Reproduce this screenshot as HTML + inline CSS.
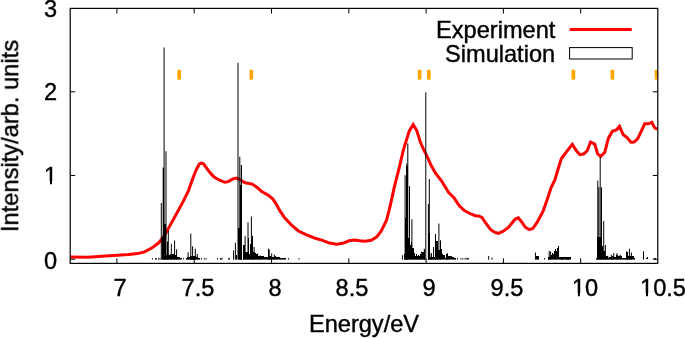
<!DOCTYPE html><html><head><meta charset="utf-8"><title>chart</title><style>
html,body{margin:0;padding:0;background:#fff}
#p{position:relative;width:685px;height:338px;overflow:hidden;background:#fff;font-family:"Liberation Sans",sans-serif;font-size:23.6px;color:#000;line-height:1}
.t{position:absolute;white-space:nowrap;line-height:1;-webkit-text-stroke:0.4px #000;will-change:transform}
.o{position:relative;display:inline-block}.o:before,.o:after{content:"";position:absolute;background:#fff;top:15.9px;height:4.2px}.o:before{left:0.3px;width:5.45px}.o:after{left:8.25px;width:5.2px}
</style></head><body><div id="p">
<svg width="685" height="338" viewBox="0 0 685 338" style="position:absolute;left:0;top:0">
<clipPath id="c"><rect x="70.2" y="8.4" width="587.5999999999999" height="254.99999999999997"/></clipPath>
<g fill="#ffa500" clip-path="url(#c)">
<rect x="177.4" y="69.8" width="3.6" height="9.8"/>
<rect x="249.5" y="69.8" width="3.6" height="9.8"/>
<rect x="417.8" y="69.8" width="3.6" height="9.8"/>
<rect x="427.0" y="69.8" width="3.6" height="9.8"/>
<rect x="571.6" y="69.8" width="3.6" height="9.8"/>
<rect x="610.6" y="69.8" width="3.6" height="9.8"/>
<rect x="654.8" y="69.8" width="3.6" height="9.8"/>
</g>
<polyline clip-path="url(#c)" fill="none" stroke="#ff0000" stroke-width="3" stroke-linejoin="miter" stroke-miterlimit="3" stroke-linecap="butt" points="70.0,257.0 87.8,257.2 105.5,256.1 117.0,255.2 128.6,254.5 137.5,253.6 144.6,251.9 151.7,248.1 158.8,242.8 164.1,236.2 169.4,226.6 174.7,217.0 180.1,207.1 183.1,201.6 188.4,190.8 192.8,178.4 196.4,169.5 199.4,163.8 201.2,163.0 203.5,163.8 207.0,168.6 210.6,173.4 214.1,177.0 219.5,180.2 224.8,182.3 228.3,181.6 232.8,178.9 236.3,178.0 239.9,179.8 245.2,182.8 252.3,184.1 256.8,187.3 262.1,191.7 268.3,195.3 272.7,198.8 276.3,204.1 278.9,209.2 284.2,217.2 291.3,224.8 298.4,231.0 305.5,234.4 314.4,238.0 322.4,240.3 329.5,243.1 336.6,244.2 342.8,243.3 349.0,240.8 354.3,239.9 359.6,240.8 365.0,241.3 371.2,240.3 376.5,237.1 381.0,231.4 384.5,224.3 386.6,220.0 389.6,208.4 392.5,195.4 394.3,187.1 396.1,180.0 399.0,168.6 403.4,149.9 409.3,130.9 413.2,124.7 416.7,130.4 420.3,142.0 423.8,149.9 428.3,158.8 430.9,165.0 435.4,173.0 441.6,181.0 448.7,192.5 454.0,197.8 459.3,205.8 464.7,210.8 470.9,214.0 475.3,215.7 478.9,215.9 482.1,217.6 486.0,223.5 490.4,229.4 494.9,232.4 498.4,233.3 502.8,231.5 508.2,227.6 512.6,222.3 515.3,219.1 518.3,217.8 521.5,221.7 525.4,227.4 529.5,229.7 533.0,228.3 537.5,221.7 543.1,211.1 547.2,199.5 551.3,187.1 554.9,180.0 557.8,170.0 561.3,158.8 566.6,151.7 572.3,144.3 576.4,150.8 579.9,154.7 583.5,154.0 587.0,151.2 590.6,142.0 594.7,144.1 597.7,154.0 600.7,156.5 604.8,152.3 608.3,138.4 612.4,131.3 616.3,129.9 619.5,126.3 623.1,134.5 627.0,137.5 630.9,142.3 634.1,142.0 637.6,138.8 641.2,131.3 644.7,123.8 648.3,123.8 651.8,122.4 654.5,127.4 657.2,129.5"/>
<g stroke="#000" stroke-width="1" clip-path="url(#c)">
<line x1="161.3" y1="203.1" x2="161.3" y2="259.7"/>
<line x1="163.2" y1="167.5" x2="163.2" y2="259.7"/>
<line x1="164.1" y1="47.5" x2="164.1" y2="259.7"/>
<line x1="166.0" y1="151.3" x2="166.0" y2="259.7"/>
<line x1="167.5" y1="241.6" x2="167.5" y2="259.7"/>
<line x1="168.3" y1="230.7" x2="168.3" y2="259.7"/>
<line x1="171.3" y1="243.9" x2="171.3" y2="259.7"/>
<line x1="174.6" y1="240.5" x2="174.6" y2="259.7"/>
<line x1="176.6" y1="249.3" x2="176.6" y2="259.7"/>
<line x1="188.1" y1="252.2" x2="188.1" y2="259.7"/>
<line x1="190.8" y1="233.5" x2="190.8" y2="259.7"/>
<line x1="192.6" y1="246.3" x2="192.6" y2="259.7"/>
<line x1="195.3" y1="248.7" x2="195.3" y2="259.7"/>
<line x1="197.3" y1="254.0" x2="197.3" y2="259.7"/>
<line x1="238.0" y1="62.8" x2="238.0" y2="259.7"/>
<line x1="239.8" y1="156.8" x2="239.8" y2="259.7"/>
<line x1="241.3" y1="165.1" x2="241.3" y2="259.7"/>
<line x1="233.6" y1="250.4" x2="233.6" y2="259.7"/>
<line x1="235.4" y1="242.8" x2="235.4" y2="259.7"/>
<line x1="243.7" y1="245.7" x2="243.7" y2="259.7"/>
<line x1="245.1" y1="236.2" x2="245.1" y2="259.7"/>
<line x1="248.0" y1="222.3" x2="248.0" y2="259.7"/>
<line x1="251.4" y1="216.4" x2="251.4" y2="259.7"/>
<line x1="252.2" y1="235.7" x2="252.2" y2="259.7"/>
<line x1="254.1" y1="246.9" x2="254.1" y2="259.7"/>
<line x1="257.6" y1="253.4" x2="257.6" y2="259.7"/>
<line x1="260.2" y1="255.5" x2="260.2" y2="259.7"/>
<line x1="268.5" y1="248.7" x2="268.5" y2="259.7"/>
<line x1="269.2" y1="249.5" x2="269.2" y2="259.7"/>
<line x1="271.7" y1="253.4" x2="271.7" y2="259.7"/>
<line x1="274.4" y1="254.6" x2="274.4" y2="259.7"/>
<line x1="402.4" y1="255.2" x2="402.4" y2="259.7"/>
<line x1="405.1" y1="175.2" x2="405.1" y2="259.7"/>
<line x1="406.8" y1="163.3" x2="406.8" y2="259.7"/>
<line x1="407.8" y1="143.4" x2="407.8" y2="259.7"/>
<line x1="409.5" y1="186.2" x2="409.5" y2="259.7"/>
<line x1="411.9" y1="219.3" x2="411.9" y2="259.7"/>
<line x1="431.2" y1="253.2" x2="431.2" y2="259.7"/>
<line x1="421.4" y1="251.6" x2="421.4" y2="259.7"/>
<line x1="424.3" y1="248.7" x2="424.3" y2="259.7"/>
<line x1="425.8" y1="92.4" x2="425.8" y2="259.7"/>
<line x1="428.4" y1="203.9" x2="428.4" y2="259.7"/>
<line x1="429.3" y1="179.1" x2="429.3" y2="259.7"/>
<line x1="431.4" y1="253.4" x2="431.4" y2="259.7"/>
<line x1="433.6" y1="246.9" x2="433.6" y2="259.7"/>
<line x1="437.3" y1="242.8" x2="437.3" y2="259.7"/>
<line x1="438.9" y1="223.5" x2="438.9" y2="259.7"/>
<line x1="440.5" y1="240.3" x2="440.5" y2="259.7"/>
<line x1="447.4" y1="253.2" x2="447.4" y2="259.7"/>
<line x1="488.7" y1="256.0" x2="488.7" y2="259.7"/>
<line x1="492.0" y1="257.5" x2="492.0" y2="259.7"/>
<line x1="535.4" y1="252.5" x2="535.4" y2="259.7"/>
<line x1="549.2" y1="251.0" x2="549.2" y2="259.7"/>
<line x1="550.6" y1="251.5" x2="550.6" y2="259.7"/>
<line x1="597.8" y1="180.5" x2="597.8" y2="259.7"/>
<line x1="598.8" y1="187.0" x2="598.8" y2="259.7"/>
<line x1="600.2" y1="156.8" x2="600.2" y2="259.7"/>
<line x1="601.5" y1="187.4" x2="601.5" y2="259.7"/>
<line x1="603.7" y1="221.1" x2="603.7" y2="259.7"/>
<line x1="605.4" y1="245.1" x2="605.4" y2="259.7"/>
<line x1="607.8" y1="255.8" x2="607.8" y2="259.7"/>
<line x1="611.3" y1="254.6" x2="611.3" y2="259.7"/>
<line x1="613.7" y1="253.2" x2="613.7" y2="259.7"/>
<line x1="617.0" y1="253.2" x2="617.0" y2="259.7"/>
<line x1="620.2" y1="254.6" x2="620.2" y2="259.7"/>
<line x1="626.7" y1="251.3" x2="626.7" y2="259.7"/>
<line x1="629.4" y1="248.7" x2="629.4" y2="259.7"/>
<line x1="631.4" y1="252.5" x2="631.4" y2="259.7"/>
<line x1="643.5" y1="251.3" x2="643.5" y2="259.7"/>
<line x1="152.4" y1="257.9" x2="152.4" y2="259.7" stroke-width="0.8"/>
<line x1="155.6" y1="257.9" x2="155.6" y2="259.7" stroke-width="0.8"/>
<line x1="156.4" y1="257.9" x2="156.4" y2="259.7" stroke-width="0.8"/>
<line x1="158.7" y1="257.9" x2="158.7" y2="259.7" stroke-width="0.8"/>
<line x1="160.0" y1="257.9" x2="160.0" y2="259.7" stroke-width="0.8"/>
<line x1="181.5" y1="257.9" x2="181.5" y2="259.7" stroke-width="0.8"/>
<line x1="183.6" y1="257.9" x2="183.6" y2="259.7" stroke-width="0.8"/>
<line x1="201.4" y1="257.9" x2="201.4" y2="259.7" stroke-width="0.8"/>
<line x1="204.4" y1="257.9" x2="204.4" y2="259.7" stroke-width="0.8"/>
<line x1="206.2" y1="257.9" x2="206.2" y2="259.7" stroke-width="0.8"/>
<line x1="217.5" y1="257.9" x2="217.5" y2="259.7" stroke-width="0.8"/>
<line x1="220.5" y1="257.9" x2="220.5" y2="259.7" stroke-width="0.8"/>
<line x1="222.0" y1="257.9" x2="222.0" y2="259.7" stroke-width="0.8"/>
<line x1="228.7" y1="257.9" x2="228.7" y2="259.7" stroke-width="0.8"/>
<line x1="221.2" y1="257.9" x2="221.2" y2="259.7" stroke-width="0.8"/>
<line x1="229.5" y1="257.9" x2="229.5" y2="259.7" stroke-width="0.8"/>
<line x1="288.6" y1="257.9" x2="288.6" y2="259.7" stroke-width="0.8"/>
<line x1="299.0" y1="257.9" x2="299.0" y2="259.7" stroke-width="0.8"/>
<line x1="457.5" y1="257.9" x2="457.5" y2="259.7" stroke-width="0.8"/>
<line x1="461.0" y1="257.9" x2="461.0" y2="259.7" stroke-width="0.8"/>
<line x1="462.8" y1="257.9" x2="462.8" y2="259.7" stroke-width="0.8"/>
<line x1="465.1" y1="257.9" x2="465.1" y2="259.7" stroke-width="0.8"/>
<line x1="467.5" y1="257.9" x2="467.5" y2="259.7" stroke-width="0.8"/>
<line x1="466.2" y1="257.9" x2="466.2" y2="259.7" stroke-width="0.8"/>
<line x1="468.6" y1="257.9" x2="468.6" y2="259.7" stroke-width="0.8"/>
<line x1="544.5" y1="257.9" x2="544.5" y2="259.7" stroke-width="0.8"/>
<line x1="654.5" y1="257.9" x2="654.5" y2="259.7" stroke-width="0.8"/>
<line x1="655.5" y1="257.9" x2="655.5" y2="259.7" stroke-width="0.8"/>
</g>
<g fill="#000" clip-path="url(#c)" shape-rendering="crispEdges">
<rect x="163" y="224" width="3" height="35"/>
<rect x="163" y="259" width="3" height="0.6" shape-rendering="auto"/>
<rect x="163" y="168" width="1" height="91"/>
<rect x="163" y="259" width="1" height="0.6" shape-rendering="auto"/>
<rect x="162" y="237" width="1" height="22"/>
<rect x="162" y="259" width="1" height="0.6" shape-rendering="auto"/>
<rect x="166" y="255" width="4" height="4"/>
<rect x="166" y="259" width="4" height="0.6" shape-rendering="auto"/>
<rect x="170" y="254" width="4" height="5"/>
<rect x="170" y="259" width="4" height="0.6" shape-rendering="auto"/>
<rect x="174" y="255" width="3" height="4"/>
<rect x="174" y="259" width="3" height="0.6" shape-rendering="auto"/>
<rect x="177" y="257" width="3" height="2"/>
<rect x="177" y="259" width="3" height="0.6" shape-rendering="auto"/>
<rect x="180" y="258" width="1" height="1"/>
<rect x="180" y="259" width="1" height="0.6" shape-rendering="auto"/>
<rect x="186" y="258" width="1" height="1"/>
<rect x="186" y="259" width="1" height="0.6" shape-rendering="auto"/>
<rect x="187" y="257" width="11" height="2"/>
<rect x="187" y="259" width="11" height="0.6" shape-rendering="auto"/>
<rect x="190" y="256" width="6" height="3"/>
<rect x="190" y="259" width="6" height="0.6" shape-rendering="auto"/>
<rect x="198" y="258" width="2" height="1"/>
<rect x="198" y="259" width="2" height="0.6" shape-rendering="auto"/>
<rect x="236" y="255" width="1" height="4"/>
<rect x="236" y="259" width="1" height="0.6" shape-rendering="auto"/>
<rect x="238" y="228" width="4" height="31"/>
<rect x="238" y="259" width="4" height="0.6" shape-rendering="auto"/>
<rect x="240" y="185" width="2" height="74"/>
<rect x="240" y="259" width="2" height="0.6" shape-rendering="auto"/>
<rect x="241" y="165" width="1" height="94"/>
<rect x="241" y="259" width="1" height="0.6" shape-rendering="auto"/>
<rect x="243" y="245" width="2" height="14"/>
<rect x="243" y="259" width="2" height="0.6" shape-rendering="auto"/>
<rect x="245" y="252" width="3" height="7"/>
<rect x="245" y="259" width="3" height="0.6" shape-rendering="auto"/>
<rect x="248" y="238" width="1" height="21"/>
<rect x="248" y="259" width="1" height="0.6" shape-rendering="auto"/>
<rect x="249" y="254" width="1" height="5"/>
<rect x="249" y="259" width="1" height="0.6" shape-rendering="auto"/>
<rect x="250" y="244" width="2" height="15"/>
<rect x="250" y="259" width="2" height="0.6" shape-rendering="auto"/>
<rect x="252" y="236" width="1" height="23"/>
<rect x="252" y="259" width="1" height="0.6" shape-rendering="auto"/>
<rect x="253" y="252" width="2" height="7"/>
<rect x="253" y="259" width="2" height="0.6" shape-rendering="auto"/>
<rect x="255" y="253" width="1" height="6"/>
<rect x="255" y="259" width="1" height="0.6" shape-rendering="auto"/>
<rect x="256" y="254" width="2" height="5"/>
<rect x="256" y="259" width="2" height="0.6" shape-rendering="auto"/>
<rect x="258" y="256" width="2" height="3"/>
<rect x="258" y="259" width="2" height="0.6" shape-rendering="auto"/>
<rect x="260" y="256" width="2" height="3"/>
<rect x="260" y="259" width="2" height="0.6" shape-rendering="auto"/>
<rect x="262" y="256" width="2" height="3"/>
<rect x="262" y="259" width="2" height="0.6" shape-rendering="auto"/>
<rect x="264" y="257" width="4" height="2"/>
<rect x="264" y="259" width="4" height="0.6" shape-rendering="auto"/>
<rect x="268" y="256" width="2" height="3"/>
<rect x="268" y="259" width="2" height="0.6" shape-rendering="auto"/>
<rect x="268" y="249" width="1" height="10"/>
<rect x="268" y="259" width="1" height="0.6" shape-rendering="auto"/>
<rect x="270" y="256" width="1" height="3"/>
<rect x="270" y="259" width="1" height="0.6" shape-rendering="auto"/>
<rect x="271" y="257" width="2" height="2"/>
<rect x="271" y="259" width="2" height="0.6" shape-rendering="auto"/>
<rect x="273" y="257" width="2" height="2"/>
<rect x="273" y="259" width="2" height="0.6" shape-rendering="auto"/>
<rect x="275" y="256" width="1" height="3"/>
<rect x="275" y="259" width="1" height="0.6" shape-rendering="auto"/>
<rect x="276" y="257" width="4" height="2"/>
<rect x="276" y="259" width="4" height="0.6" shape-rendering="auto"/>
<rect x="280" y="258" width="1" height="1"/>
<rect x="280" y="259" width="1" height="0.6" shape-rendering="auto"/>
<rect x="281" y="258" width="3" height="1"/>
<rect x="281" y="259" width="3" height="0.6" shape-rendering="auto"/>
<rect x="284" y="258" width="2" height="1"/>
<rect x="284" y="259" width="2" height="0.6" shape-rendering="auto"/>
<rect x="404" y="254" width="1" height="5"/>
<rect x="404" y="259" width="1" height="0.6" shape-rendering="auto"/>
<rect x="405" y="218" width="3" height="41"/>
<rect x="405" y="259" width="3" height="0.6" shape-rendering="auto"/>
<rect x="406" y="166" width="2" height="93"/>
<rect x="406" y="259" width="2" height="0.6" shape-rendering="auto"/>
<rect x="408" y="238" width="1" height="21"/>
<rect x="408" y="259" width="1" height="0.6" shape-rendering="auto"/>
<rect x="410" y="245" width="1" height="14"/>
<rect x="410" y="259" width="1" height="0.6" shape-rendering="auto"/>
<rect x="411" y="242" width="1" height="17"/>
<rect x="411" y="259" width="1" height="0.6" shape-rendering="auto"/>
<rect x="412" y="248" width="2" height="11"/>
<rect x="412" y="259" width="2" height="0.6" shape-rendering="auto"/>
<rect x="414" y="253" width="1" height="6"/>
<rect x="414" y="259" width="1" height="0.6" shape-rendering="auto"/>
<rect x="414" y="256" width="6" height="3"/>
<rect x="414" y="259" width="6" height="0.6" shape-rendering="auto"/>
<rect x="416" y="254" width="1" height="5"/>
<rect x="416" y="259" width="1" height="0.6" shape-rendering="auto"/>
<rect x="418" y="255" width="1" height="4"/>
<rect x="418" y="259" width="1" height="0.6" shape-rendering="auto"/>
<rect x="420" y="254" width="2" height="5"/>
<rect x="420" y="259" width="2" height="0.6" shape-rendering="auto"/>
<rect x="422" y="252" width="1" height="7"/>
<rect x="422" y="259" width="1" height="0.6" shape-rendering="auto"/>
<rect x="423" y="252" width="2" height="7"/>
<rect x="423" y="259" width="2" height="0.6" shape-rendering="auto"/>
<rect x="424" y="250" width="1" height="9"/>
<rect x="424" y="259" width="1" height="0.6" shape-rendering="auto"/>
<rect x="428" y="233" width="2" height="26"/>
<rect x="428" y="259" width="2" height="0.6" shape-rendering="auto"/>
<rect x="430" y="257" width="6" height="2"/>
<rect x="430" y="259" width="6" height="0.6" shape-rendering="auto"/>
<rect x="435" y="234" width="1" height="25"/>
<rect x="435" y="259" width="1" height="0.6" shape-rendering="auto"/>
<rect x="436" y="241" width="2" height="18"/>
<rect x="436" y="259" width="2" height="0.6" shape-rendering="auto"/>
<rect x="438" y="250" width="3" height="9"/>
<rect x="438" y="259" width="3" height="0.6" shape-rendering="auto"/>
<rect x="441" y="249" width="1" height="10"/>
<rect x="441" y="259" width="1" height="0.6" shape-rendering="auto"/>
<rect x="442" y="254" width="1" height="5"/>
<rect x="442" y="259" width="1" height="0.6" shape-rendering="auto"/>
<rect x="443" y="255" width="2" height="4"/>
<rect x="443" y="259" width="2" height="0.6" shape-rendering="auto"/>
<rect x="445" y="258" width="1" height="1"/>
<rect x="445" y="259" width="1" height="0.6" shape-rendering="auto"/>
<rect x="446" y="254" width="2" height="5"/>
<rect x="446" y="259" width="2" height="0.6" shape-rendering="auto"/>
<rect x="448" y="256" width="2" height="3"/>
<rect x="448" y="259" width="2" height="0.6" shape-rendering="auto"/>
<rect x="450" y="256" width="2" height="3"/>
<rect x="450" y="259" width="2" height="0.6" shape-rendering="auto"/>
<rect x="452" y="257" width="2" height="2"/>
<rect x="452" y="259" width="2" height="0.6" shape-rendering="auto"/>
<rect x="454" y="258" width="2" height="1"/>
<rect x="454" y="259" width="2" height="0.6" shape-rendering="auto"/>
<rect x="536" y="256" width="3" height="3"/>
<rect x="536" y="259" width="3" height="0.6" shape-rendering="auto"/>
<rect x="548" y="257" width="1" height="2"/>
<rect x="548" y="259" width="1" height="0.6" shape-rendering="auto"/>
<rect x="549" y="257" width="2" height="2"/>
<rect x="549" y="259" width="2" height="0.6" shape-rendering="auto"/>
<rect x="551" y="255" width="1" height="4"/>
<rect x="551" y="259" width="1" height="0.6" shape-rendering="auto"/>
<rect x="552" y="253" width="1" height="6"/>
<rect x="552" y="259" width="1" height="0.6" shape-rendering="auto"/>
<rect x="553" y="254" width="1" height="5"/>
<rect x="553" y="259" width="1" height="0.6" shape-rendering="auto"/>
<rect x="554" y="251" width="1" height="8"/>
<rect x="554" y="259" width="1" height="0.6" shape-rendering="auto"/>
<rect x="555" y="249" width="1" height="10"/>
<rect x="555" y="259" width="1" height="0.6" shape-rendering="auto"/>
<rect x="556" y="251" width="1" height="8"/>
<rect x="556" y="259" width="1" height="0.6" shape-rendering="auto"/>
<rect x="557" y="248" width="1" height="11"/>
<rect x="557" y="259" width="1" height="0.6" shape-rendering="auto"/>
<rect x="558" y="246" width="1" height="13"/>
<rect x="558" y="259" width="1" height="0.6" shape-rendering="auto"/>
<rect x="559" y="257" width="12" height="2"/>
<rect x="559" y="259" width="12" height="0.6" shape-rendering="auto"/>
<rect x="561" y="257" width="2" height="2"/>
<rect x="561" y="259" width="2" height="0.6" shape-rendering="auto"/>
<rect x="566" y="257" width="3" height="2"/>
<rect x="566" y="259" width="3" height="0.6" shape-rendering="auto"/>
<rect x="596" y="258" width="1" height="1"/>
<rect x="596" y="259" width="1" height="0.6" shape-rendering="auto"/>
<rect x="597" y="237" width="4" height="22"/>
<rect x="597" y="259" width="4" height="0.6" shape-rendering="auto"/>
<rect x="601" y="240" width="1" height="19"/>
<rect x="601" y="259" width="1" height="0.6" shape-rendering="auto"/>
<rect x="602" y="246" width="1" height="13"/>
<rect x="602" y="259" width="1" height="0.6" shape-rendering="auto"/>
<rect x="603" y="251" width="2" height="8"/>
<rect x="603" y="259" width="2" height="0.6" shape-rendering="auto"/>
<rect x="605" y="257" width="1" height="2"/>
<rect x="605" y="259" width="1" height="0.6" shape-rendering="auto"/>
<rect x="606" y="256" width="2" height="3"/>
<rect x="606" y="259" width="2" height="0.6" shape-rendering="auto"/>
<rect x="608" y="258" width="1" height="1"/>
<rect x="608" y="259" width="1" height="0.6" shape-rendering="auto"/>
<rect x="609" y="257" width="3" height="2"/>
<rect x="609" y="259" width="3" height="0.6" shape-rendering="auto"/>
<rect x="612" y="256" width="2" height="3"/>
<rect x="612" y="259" width="2" height="0.6" shape-rendering="auto"/>
<rect x="614" y="257" width="2" height="2"/>
<rect x="614" y="259" width="2" height="0.6" shape-rendering="auto"/>
<rect x="616" y="255" width="2" height="4"/>
<rect x="616" y="259" width="2" height="0.6" shape-rendering="auto"/>
<rect x="618" y="256" width="2" height="3"/>
<rect x="618" y="259" width="2" height="0.6" shape-rendering="auto"/>
<rect x="620" y="256" width="2" height="3"/>
<rect x="620" y="259" width="2" height="0.6" shape-rendering="auto"/>
<rect x="622" y="258" width="4" height="1"/>
<rect x="622" y="259" width="4" height="0.6" shape-rendering="auto"/>
<rect x="626" y="256" width="8" height="3"/>
<rect x="626" y="259" width="8" height="0.6" shape-rendering="auto"/>
<rect x="626" y="252" width="2" height="7"/>
<rect x="626" y="259" width="2" height="0.6" shape-rendering="auto"/>
<rect x="634" y="258" width="1" height="1"/>
<rect x="634" y="259" width="1" height="0.6" shape-rendering="auto"/>
<polygon points="645.7,259.2 648.0,256.0 648.0,259.5"/>
</g>
<rect x="70.2" y="8.4" width="587.5999999999999" height="254.99999999999997" fill="none" stroke="#000" stroke-width="1.2"/>
<g stroke="#000" stroke-width="1">
<line x1="116.9" y1="263.4" x2="116.9" y2="258.29999999999995"/>
<line x1="116.9" y1="8.4" x2="116.9" y2="13.5"/>
<line x1="194.2" y1="263.4" x2="194.2" y2="258.29999999999995"/>
<line x1="194.2" y1="8.4" x2="194.2" y2="13.5"/>
<line x1="271.5" y1="263.4" x2="271.5" y2="258.29999999999995"/>
<line x1="271.5" y1="8.4" x2="271.5" y2="13.5"/>
<line x1="348.8" y1="263.4" x2="348.8" y2="258.29999999999995"/>
<line x1="348.8" y1="8.4" x2="348.8" y2="13.5"/>
<line x1="426.1" y1="263.4" x2="426.1" y2="258.29999999999995"/>
<line x1="426.1" y1="8.4" x2="426.1" y2="13.5"/>
<line x1="503.4" y1="263.4" x2="503.4" y2="258.29999999999995"/>
<line x1="503.4" y1="8.4" x2="503.4" y2="13.5"/>
<line x1="580.7" y1="263.4" x2="580.7" y2="258.29999999999995"/>
<line x1="580.7" y1="8.4" x2="580.7" y2="13.5"/>
<line x1="70.2" y1="259.2" x2="75.2" y2="259.2"/>
<line x1="657.8" y1="259.2" x2="652.8" y2="259.2"/>
<line x1="70.2" y1="175.5" x2="75.2" y2="175.5"/>
<line x1="657.8" y1="175.5" x2="652.8" y2="175.5"/>
<line x1="70.2" y1="91.8" x2="75.2" y2="91.8"/>
<line x1="657.8" y1="91.8" x2="652.8" y2="91.8"/>
</g>
<line x1="569.7" y1="29.5" x2="631.7" y2="29.5" stroke="#ff0000" stroke-width="3" stroke-linecap="butt"/>
<rect x="569.6" y="47.6" width="62.6" height="11.4" fill="#fff" stroke="#000" stroke-width="1"/>
</svg>
<div class="t yl" style="right:628.1px;top:250.0px">0</div>
<div class="t yl" style="right:628.1px;top:164.9px"><span class="o">1</span></div>
<div class="t yl" style="right:628.1px;top:81.4px">2</div>
<div class="t yl" style="right:628.1px;top:-1.7px">3</div>
<div class="t xl" style="left:119.8px;top:277.4px;transform:translateX(-50%)">7</div>
<div class="t xl" style="left:198.2px;top:277.4px;transform:translateX(-50%)">7.5</div>
<div class="t xl" style="left:275.2px;top:277.4px;transform:translateX(-50%)">8</div>
<div class="t xl" style="left:351.5px;top:277.4px;transform:translateX(-50%)">8.5</div>
<div class="t xl" style="left:429.0px;top:277.4px;transform:translateX(-50%)">9</div>
<div class="t xl" style="left:506.9px;top:277.4px;transform:translateX(-50%)">9.5</div>
<div class="t xl" style="left:585.0px;top:277.4px;transform:translateX(-50%)"><span class="o">1</span>0</div>
<div class="t xl" style="left:663.2px;top:277.4px;transform:translateX(-50%)"><span class="o">1</span>0.5</div>
<div class="t" id="xt" style="left:364.0px;top:312.9px;transform:translateX(-50%)">Energy/eV</div>
<div class="t" id="yt" style="font-size:23.7px;left:10.6px;top:135.75px;transform:translate(-50%,-50%) rotate(-90deg)">Intensity/arb. units</div>
<div class="t" id="l1" style="right:129.2px;top:18.6px">Experiment</div>
<div class="t" id="l2" style="right:129.4px;top:43.2px">Simulation</div>
</div></body></html>
